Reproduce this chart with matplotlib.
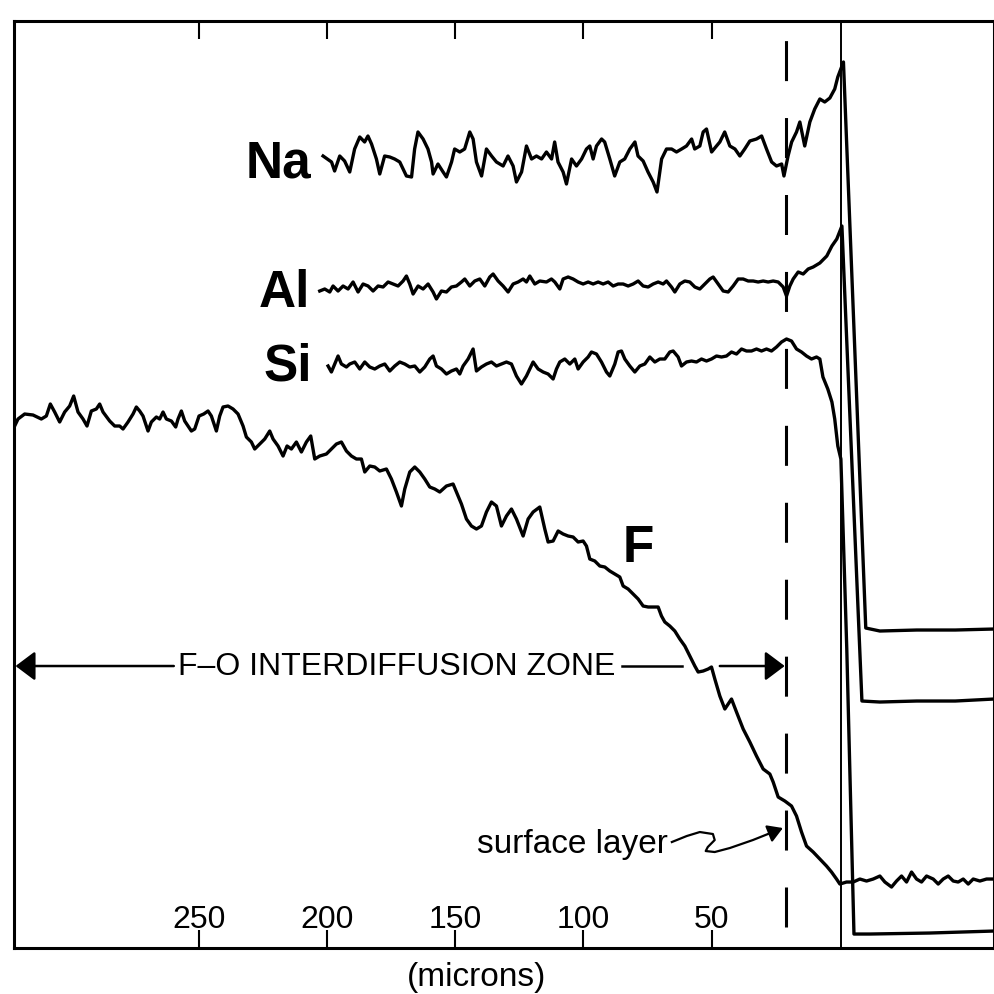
import matplotlib
matplotlib.use("Agg")
import matplotlib.pyplot as plt

plt.rcParams["font.family"] = ["Liberation Sans", "DejaVu Sans"]
plt.rcParams["lines.scale_dashes"] = False

# depth below the glass surface (microns, surface = 0) and recorder signal (arbitrary units)
na_depth = [201.5, 198.2, 197.0, 195.0, 193.1, 191.1, 189.2, 187.2, 185.3, 184.0,
            182.6, 180.7, 179.4, 177.5, 175.5, 173.6, 171.6, 169.0, 167.0, 165.8,
            164.5, 162.5, 160.6, 159.2, 158.6, 156.7, 154.7, 153.4, 151.4, 150.2,
            148.2, 146.3, 144.3, 143.0, 141.7, 139.7, 137.8, 135.8, 133.9, 131.3,
            129.4, 127.4, 126.1, 124.1, 122.2, 120.2, 118.3, 116.3, 114.4, 112.4,
            111.2, 109.9, 107.9, 106.6, 104.6, 102.7, 100.7, 98.8, 97.5, 96.2,
            94.9, 92.9, 91.7, 89.7, 87.8, 85.8, 83.9, 81.9, 79.9, 78.7,
            76.7, 74.8, 72.8, 71.3, 69.5, 67.6, 65.6, 63.7, 61.7, 59.8,
            57.8, 56.6, 54.6, 53.3, 52.0, 50.0, 48.1, 46.8, 44.9, 42.9,
            40.9, 39.0, 37.1, 35.1, 32.5, 30.5, 28.6, 26.6, 24.7, 22.7,
            21.8, 20.2, 18.8, 16.9, 15.6, 13.7, 11.7, 9.8, 7.8,
            5.9, 3.9, 2.0, 0.8, -1.4, -10.1, -15.6, -30, -45, -60.1]
na_signal = [795, 789, 780, 795, 790, 779, 802, 814, 809, 815,
             807, 792, 777, 795, 794, 792, 789, 775, 774, 802,
             819, 812, 802, 789, 777, 787, 779, 774, 789, 802,
             799, 802, 819, 812, 789, 775, 802, 795, 789, 785,
             795, 785, 769, 779, 805, 792, 795, 792, 799, 792,
             809, 789, 779, 767, 792, 785, 792, 802, 805, 792,
             805, 812, 809, 792, 775, 789, 792, 802, 809, 795,
             790, 779, 769, 759, 792, 802, 802, 799, 802, 805,
             812, 802, 805, 819, 822, 799, 805, 809, 819, 805,
             802, 795, 802, 810, 812, 815, 802, 789, 785, 787,
             775, 795, 809, 819, 829, 805, 829, 842, 852,
             849, 853, 862, 874, 889, 323, 320, 321, 321, 322]

al_depth = [202.8, 200.85, 198.9, 197.6, 195.65, 193.7, 191.75, 189.8, 187.85, 185.9,
            183.95, 182.0, 180.05, 178.1, 176.15, 174.2, 172.25, 170.3, 169.0, 167.7,
            166.4, 164.45, 162.5, 160.55, 158.6, 157.3, 155.35, 153.4, 151.45, 149.5,
            147.55, 146.25, 144.3, 142.35, 140.4, 138.45, 136.5, 135.2, 133.25, 131.3,
            129.35, 127.4, 125.45, 123.5, 122.2, 120.9, 118.95, 117.0, 114.4, 112.45,
            111.15, 109.2, 107.9, 105.95, 104.0, 102.05, 100.1, 98.15, 96.2, 94.25,
            92.3, 90.35, 88.4, 86.45, 84.5, 82.55, 80.6, 78.65, 76.7, 74.75,
            72.8, 70.85, 68.9, 67.6, 65.65, 64.35, 62.4, 60.45, 58.5, 56.55,
            54.6, 52.65, 50.7, 49.4, 47.45, 45.5, 43.55, 41.6, 39.65, 37.7,
            35.75, 33.8, 31.85, 29.9, 27.95, 26.0, 24.05, 22.1, 20.8, 19.5,
            18.2, 16.25, 14.3, 12.35, 10.4, 7.8,
            5.1, 3.1, 1.2, -0.8, -8.6, -15.6, -30, -45, -60.1]
al_signal = [660, 662, 659, 665, 660, 665, 662, 669, 659, 667,
             665, 660, 665, 664, 669, 667, 665, 670, 675, 667,
             657, 665, 662, 667, 659, 652, 660, 659, 664, 665,
             669, 672, 665, 670, 672, 665, 674, 677, 670, 665,
             659, 667, 669, 672, 669, 675, 667, 670, 669, 672,
             669, 662, 672, 674, 672, 669, 667, 669, 667, 669,
             667, 669, 665, 667, 667, 665, 667, 670, 665, 664,
             667, 669, 667, 670, 664, 659, 667, 670, 669, 664,
             662, 667, 672, 674, 667, 660, 659, 665, 672, 672,
             670, 670, 669, 670, 669, 670, 669, 664, 655, 665,
             672, 679, 677, 682, 684, 688,
             695, 705, 712, 725, 250, 249, 250, 250, 252]

si_depth = [199.55, 198.25, 196.95, 195.65, 194.35, 192.4, 191.1, 189.15, 187.2, 185.25,
            183.3, 181.35, 179.4, 177.45, 175.5, 173.55, 171.6, 169.65, 167.7, 165.75,
            163.8, 161.85, 159.9, 158.6, 157.3, 155.35, 153.4, 151.45, 149.5, 148.2,
            146.9, 144.95, 143.0, 141.7, 139.75, 137.8, 135.85, 133.9, 131.95, 130.0,
            128.05, 126.1, 124.15, 122.2, 120.9, 119.6, 117.65, 115.7, 113.75, 111.8,
            110.5, 109.2, 107.25, 105.3, 103.35, 102.05, 100.1, 98.15, 96.85, 94.9,
            92.95, 91.0, 89.7, 87.75, 86.45, 85.15, 83.85, 81.9, 79.95, 78.0,
            76.05, 74.1, 72.15, 70.2, 68.25, 66.3, 65.0, 63.05, 61.75, 59.8,
            57.85, 55.9, 53.95, 52.0, 50.05, 48.1, 46.15, 44.2, 42.25, 40.3,
            38.35, 36.4, 34.45, 32.5, 30.55, 28.6, 26.65, 24.7, 22.75, 20.8,
            18.85, 16.9, 14.95, 13.0, 11.05, 9.1, 7.8,
            6.6, 4.7, 3.1, 2.0, 0.8, -0.4, -2.7, -5.5, -11.7, -35, -60.1]
si_signal = [585, 579, 587, 595, 587, 584, 587, 589, 582, 589,
             584, 582, 585, 587, 580, 585, 589, 587, 584, 585,
             579, 584, 592, 595, 585, 582, 577, 580, 582, 577,
             585, 592, 602, 580, 584, 587, 589, 585, 587, 589,
             587, 575, 567, 575, 582, 589, 582, 579, 577, 572,
             582, 589, 592, 587, 592, 582, 589, 594, 599, 597,
             589, 579, 575, 587, 599, 600, 592, 585, 579, 585,
             587, 594, 589, 592, 592, 599, 600, 594, 585, 589,
             590, 589, 592, 590, 592, 595, 594, 595, 599, 597,
             602, 600, 600, 602, 600, 602, 600, 604, 609, 612,
             610, 602, 599, 595, 592, 594, 592,
             574, 562, 549, 532, 505, 492, 302, 17, 17, 18, 20]

f_depth = [321.75, 320.45, 317.85, 314.6, 311.35, 309.4, 307.84, 306.15, 304.2, 302.25,
           300.3, 298.74, 297.05, 295.1, 293.54, 291.85, 289.9, 288.6, 287.3, 284.7,
           282.75, 280.8, 279.5, 277.55, 275.6, 274.3, 273.0, 271.7, 269.75, 268.45,
           266.5, 265.2, 263.9, 262.6, 260.65, 258.96, 258.05, 256.75, 255.45, 252.85,
           251.55, 249.86, 248.04, 246.35, 245.05, 243.1, 241.8, 240.5, 238.55, 236.6,
           234.65, 232.7, 231.4, 229.45, 228.15, 226.2, 224.25, 222.3, 221.0, 219.05,
           217.1, 215.54, 213.85, 211.9, 209.95, 208.0, 206.31, 204.75, 202.8, 200.2,
           198.25, 196.3, 194.35, 192.4, 190.45, 188.5, 186.55, 185.25, 183.3, 181.35,
           179.4, 176.8, 174.85, 172.9, 170.95, 169.65, 167.7, 165.75, 163.8, 161.85,
           159.9, 157.95, 156.0, 153.4, 150.8, 148.85, 147.55, 145.6, 143.65, 141.7,
           139.75, 137.8, 135.85, 133.9,
           131.95, 130.0, 128.05, 126.1, 123.5, 121.55, 119.6, 117.0, 115.05, 113.75,
           111.8, 109.85, 107.9, 105.95, 104.0, 102.05, 100.1, 98.8, 97.5, 95.55,
           93.6, 91.65, 89.7, 87.75, 85.8, 84.5, 82.55, 80.6, 78.65, 76.7,
           74.75, 72.8, 70.85, 69.55, 68.25, 66.3, 64.35, 62.4, 60.45, 58.5,
           56.55, 55.25, 53.3, 51.35, 50.05,
           48.75, 46.8, 44.85, 42.25, 40.3, 37.7, 35.1, 32.5, 29.9, 27.3,
           26.0, 24.05, 21.45, 18.85, 16.9, 14.95, 13.0, 10.4, 7.8, 5.2,
           3.25, 1.3, 0.0, -2.6, -5.2, -7.8, -10.4, -13.0, -15.6, -17.55,
           -20.15, -22.1, -24.05, -26.0, -27.95, -29.9, -31.85, -33.8, -36.4, -38.35,
           -40.3, -42.25, -44.2, -46.15, -48.1, -50.05, -52.0, -54.6, -57.2, -59.8]
f_signal = [525, 532, 537, 536, 532, 535, 547, 539, 529, 539,
            545, 555, 539, 532, 525, 540, 542, 547, 539, 530,
            525, 525, 522, 529, 537, 544, 540, 535, 520, 529,
            534, 532, 539, 532, 530, 524, 532, 540, 530, 520,
            522, 535, 537, 540, 535, 520, 535, 544, 545, 542,
            537, 525, 514, 509, 502, 507, 512, 520, 512, 505,
            495, 505, 502, 509, 499, 509, 515, 492, 495, 497,
            502, 507, 509, 500, 495, 492, 492, 479, 485, 484,
            480, 482, 472, 459, 445, 462, 479, 484, 479, 472,
            464, 462, 459, 465, 467, 455, 447, 432, 425, 422,
            425, 439, 449, 445,
            425, 435, 442, 432, 415, 432, 439, 444, 422, 409,
            410, 420, 417, 415, 414, 409, 410, 405, 392, 390,
            385, 384, 380, 377, 374, 365, 362, 357, 352, 345,
            344, 344, 344, 335, 329, 325, 320, 312, 305, 295,
            285, 279, 280, 282, 284,
            272, 255, 242, 252, 239, 222, 209, 195, 182, 177,
            169, 154, 150, 145, 135, 119, 105, 99, 92, 85,
            79, 72, 67, 69, 69, 72, 70, 72, 75, 69,
            64, 70, 75, 69, 79, 72, 69, 75, 72, 67,
            72, 75, 70, 69, 72, 67, 72, 70, 72, 72]

tick_depths = [250, 200, 150, 100, 50]
tick_labels = ["250", "200", "150", "100", "50"]

# hand drawn pointer next to "surface layer"
squiggle_depth = [65.5, 59.7, 54.6, 49.5, 48.8, 51.5, 52.3, 48.8, 42.9, 33.9, 26.1]
squiggle_signal = [109, 115, 119, 117, 111, 104, 100, 99, 103, 111, 119]

fig = plt.figure(figsize=(9.94, 9.95), dpi=100)
ax = fig.add_axes([0.0141, 0.0462, 0.9859, 0.9317])
ax.set_xlim(322, -60.1)
ax.set_ylim(3, 930)

for depth, signal in [(na_depth, na_signal), (al_depth, al_signal),
                      (si_depth, si_signal), (f_depth, f_signal)]:
    ax.plot(depth, signal, color="black", lw=2.4)

# surface marker and surface-layer boundary
ax.axvline(-0.5, color="black", lw=1.4)
ax.plot([21.1, 21.1], [24, 922], color="black", lw=2.2, linestyle=(0, (28.8, 26.6)))

bold = dict(fontsize=37, fontweight="bold", va="baseline")
ax.text(205.9, 774, "Na", ha="right", **bold)
ax.text(206.7, 645, "Al", ha="right", **bold)
ax.text(205.9, 572, "Si", ha="right", **bold)
ax.text(84.6, 390, "F", ha="left", **bold)

ax.text(172.8, 277, "F\u2013O INTERDIFFUSION ZONE", ha="center", va="baseline", fontsize=23)
head = dict(arrowstyle="-|>,head_length=0.6,head_width=0.45", mutation_scale=20,
            lw=1.8, color="black", shrinkA=0, shrinkB=0)
ax.annotate("", xy=(321.4, 285), xytext=(259.7, 285), arrowprops=head)
ax.plot([85.0, 61.6], [285, 285], color="black", lw=1.8)
ax.annotate("", xy=(21.5, 285), xytext=(46.8, 285), arrowprops=head)

ax.text(67.1, 99, "surface layer", ha="right", va="baseline", fontsize=24)
ax.plot(squiggle_depth, squiggle_signal, color="black", lw=1.6)
small = dict(arrowstyle="-|>,head_length=0.5,head_width=0.3", mutation_scale=18,
             lw=1.6, color="black", shrinkA=0, shrinkB=0)
ax.annotate("", xy=(22.2, 123), xytext=(26.1, 119), arrowprops=small)

ax.set_xticks(tick_depths)
ax.set_xticklabels(tick_labels, fontsize=23)
ax.tick_params(axis="x", direction="in", length=13, width=1.5, top=True, pad=-32)
ax.set_yticks([])
for spine in ax.spines.values():
    spine.set_linewidth(2.2)

ax.set_xlabel("(microns)", fontsize=24)
ax.xaxis.set_label_coords(0.4724, -0.014)

fig.savefig("out.png", dpi=100)
